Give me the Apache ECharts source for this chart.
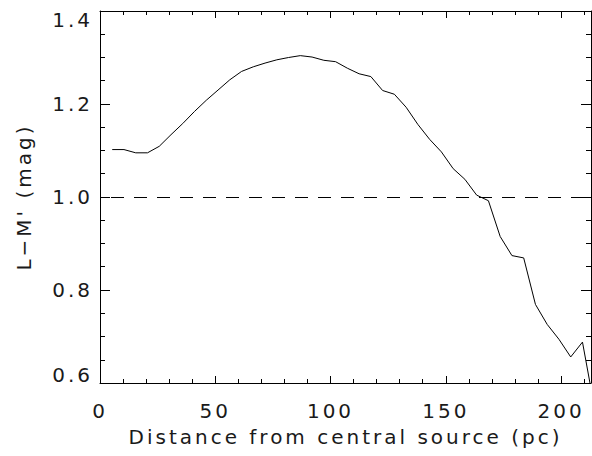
<!DOCTYPE html>
<html>
<head>
<meta charset="utf-8">
<script src="https://cdn.jsdelivr.net/npm/echarts@6/dist/echarts.min.js"></script>
<style>
html,body{margin:0;padding:0;background:#fff;}
#c{width:592px;height:456px;}
#c svg text{letter-spacing:3px;}
</style>
</head>
<body>
<div id="c"></div>
<script>
// Distance from central source (pc)
const distancePc = [5.3, 10.4, 15.5, 20.6, 25.7, 30.8, 35.9, 41.0, 46.1, 51.2,
  56.3, 61.4, 66.5, 71.6, 76.7, 81.8, 86.9, 92.0, 97.1, 102.2,
  107.3, 112.4, 117.5, 122.6, 127.7, 132.8, 137.9, 143.0, 148.1, 153.2,
  158.3, 163.4, 168.5, 173.6, 178.7, 183.8, 188.9, 194.0, 199.1, 204.2,
  209.3, 214.4];
// L-M' colour (mag)
const colorLM = [1.102, 1.102, 1.095, 1.095, 1.109, 1.134, 1.158, 1.184, 1.208, 1.230,
  1.252, 1.270, 1.280, 1.288, 1.295, 1.300, 1.304, 1.301, 1.294, 1.291,
  1.277, 1.265, 1.259, 1.229, 1.221, 1.193, 1.156, 1.124, 1.097, 1.061,
  1.038, 1.004, 0.992, 0.915, 0.874, 0.869, 0.769, 0.726, 0.694, 0.656,
  0.688, 0.550];
const referenceLevel = [1.0];
const xTitle = 'Distance from central source (pc)';
const yTitle = 'L\u2212M\' (mag)';

const FONT = 'DejaVu Sans';
const txt = {fontFamily: FONT, fontSize: 20, color: '#1a1a1a'};
const black = {color: '#000', width: 1};

function xAxisDef(pos, showLabels) {
  return {
    type: 'value', min: 0, max: 213, interval: 50, position: pos,
    axisLine: {show: true, onZero: false, lineStyle: black},
    axisTick: {show: true, inside: true, length: 7, lineStyle: black},
    minorTick: {show: true, splitNumber: 5, length: 4, lineStyle: black},
    splitLine: {show: false},
    axisLabel: showLabels ? Object.assign({}, txt, {margin: 18, showMaxLabel: false}) : {show: false},
    name: showLabels ? xTitle : '',
    nameLocation: 'middle', nameGap: 44,
    nameTextStyle: txt
  };
}
function yAxisDef(pos, showLabels) {
  return {
    type: 'value', min: 0.6, max: 1.4, interval: 0.2, position: pos,
    axisLine: {show: true, onZero: false, lineStyle: black},
    axisTick: {show: true, inside: true, length: 10, lineStyle: black},
    minorTick: {show: true, splitNumber: 4, length: 5, lineStyle: black},
    splitLine: {show: false},
    axisLabel: showLabels ? Object.assign({}, txt, {
      margin: 7,
      formatter: function (v) {
        const s = v.toFixed(1);
        if (Math.abs(v - 1.4) < 1e-6) return '{t|' + s + '}';
        if (Math.abs(v - 0.6) < 1e-6) return '{b|' + s + '}';
        return s;
      },
      rich: {
        t: Object.assign({}, txt, {padding: [18, 0, 0, 0]}),
        b: Object.assign({}, txt, {padding: [0, 0, 16, 0]})
      }
    }) : {show: false},
    name: showLabels ? yTitle : '',
    nameLocation: 'middle', nameGap: 66,
    nameTextStyle: txt
  };
}

const chart = echarts.init(document.getElementById('c'), null, {renderer: 'svg'});
chart.setOption({
  animation: false,
  backgroundColor: '#fff',
  grid: {left: 100, right: 1, top: 11, bottom: 73},
  xAxis: [xAxisDef('bottom', true), xAxisDef('top', false)],
  yAxis: [yAxisDef('left', true), yAxisDef('right', false)],
  series: [{
    type: 'line',
    xAxisIndex: 0, yAxisIndex: 0,
    data: distancePc.map((d, i) => [d, colorLM[i]]),
    symbol: 'none', showSymbol: false,
    lineStyle: {color: '#000', width: 1},
    clip: true,
    markLine: {
      silent: true, symbol: 'none', label: {show: false},
      lineStyle: {color: '#000', width: 1, type: [13, 10], dashOffset: 12},
      data: referenceLevel.map(v => ({yAxis: v}))
    }
  }]
});
</script>
</body>
</html>
